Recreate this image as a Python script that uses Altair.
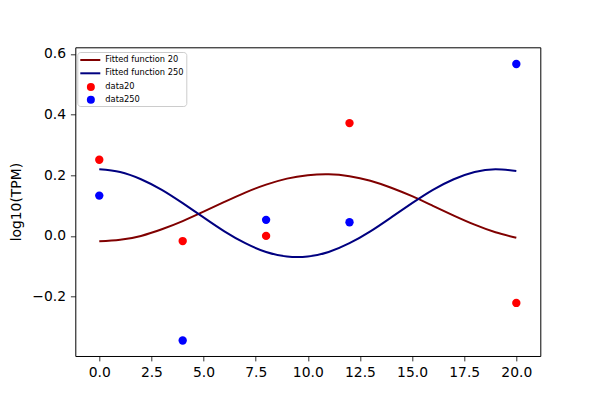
import altair as alt
import pandas as pd

# fitted curves
curve_x = list(range(21))
fit20 = [-0.018, -0.013, 0.000, 0.022, 0.049, 0.080, 0.112, 0.143, 0.169, 0.189,
         0.200, 0.203, 0.197, 0.182, 0.159, 0.131, 0.099, 0.067, 0.037, 0.012, -0.006]
fit250 = [0.220, 0.211, 0.187, 0.152, 0.108, 0.061, 0.015, -0.024, -0.053, -0.068,
          -0.068, -0.053, -0.024, 0.015, 0.061, 0.108, 0.152, 0.187, 0.211, 0.220, 0.214]

# measured data
data_x = [0, 4, 8, 12, 20]
data20 = [0.251, -0.017, 0.000, 0.372, -0.221]
data250 = [0.133, -0.345, 0.053, 0.045, 0.567]

line_names = ["Fitted function 20", "Fitted function 250"]
line_colors = ["#800000", "#000080"]
point_names = ["data20", "data250"]
point_colors = ["#ff0000", "#0000ff"]

lines_df = pd.DataFrame({
    "x": curve_x + curve_x,
    "y": fit20 + fit250,
    "series": [line_names[0]] * len(curve_x) + [line_names[1]] * len(curve_x),
})
points_df = pd.DataFrame({
    "x": data_x + data_x,
    "y": data20 + data250,
    "dataset": [point_names[0]] * len(data_x) + [point_names[1]] * len(data_x),
})

# legend 1 lists all four labels (framed); line symbols for the fits only
line_legend = alt.Legend(
    title=None, orient="none", legendX=2, legendY=4.7,
    padding=2, rowPadding=3.3,
    symbolType="M-1,0H3", symbolSize=100, symbolStrokeWidth=2,
    labelFontSize=8.3, labelFont="DejaVu Sans", labelColor="black", labelOffset=14,
    fillColor="white", strokeColor="#cccccc", cornerRadius=3,
)
# legend 2 draws only the dot symbols for the data rows
point_legend = alt.Legend(
    title=None, orient="none", legendX=11.4, legendY=35.6,
    padding=0, rowPadding=2.6,
    symbolType="circle", symbolSize=64, symbolStrokeWidth=0,
    labelExpr="''", labelFontSize=8.3,
)

xscale = alt.Scale(domain=[-1.15, 21.15], nice=False, zero=False)
yscale = alt.Scale(domain=[-0.396, 0.622], nice=False, zero=False)

axis_common = dict(
    grid=False, domain=False, tickColor="black", tickSize=4.9, tickWidth=0.8,
    labelFontSize=13.9, labelFont="DejaVu Sans", labelColor="black", labelPadding=4.9,
    format=".1f",
)
xaxis = alt.Axis(values=[0, 2.5, 5, 7.5, 10, 12.5, 15, 17.5, 20], title=None, **axis_common)
yaxis = alt.Axis(values=[-0.2, 0, 0.2, 0.4, 0.6], title="log10(TPM)",
                 titleFontSize=13.9, titleFont="DejaVu Sans", titleFontWeight="normal",
                 titleColor="black", titlePadding=8, **axis_common)

lines = alt.Chart(lines_df).mark_line(strokeWidth=2, interpolate="natural").encode(
    x=alt.X("x:Q", scale=xscale, axis=xaxis),
    y=alt.Y("y:Q", scale=yscale, axis=yaxis),
    stroke=alt.Stroke(
        "series:N",
        scale=alt.Scale(domain=line_names + point_names,
                        range=line_colors + ["rgba(255,255,255,0)", "rgba(255,255,255,0)"]),
        legend=line_legend,
    ),
    detail="series:N",
)
points = alt.Chart(points_df).mark_point(filled=True, size=70, opacity=1, shape="circle").encode(
    x=alt.X("x:Q", scale=xscale),
    y=alt.Y("y:Q", scale=yscale),
    fill=alt.Fill("dataset:N", scale=alt.Scale(domain=point_names, range=point_colors),
                  legend=point_legend),
)

chart = alt.layer(lines, points).properties(
    width=465, height=308.7,
    autosize=alt.AutoSizeParams(type="none"),
    padding={"left": 67.3, "top": 39.3, "right": 50, "bottom": 30},
    background="white",
).configure_view(stroke="black", strokeWidth=1)

chart.save("out.html", embed_options={"renderer": "svg", "actions": False})
